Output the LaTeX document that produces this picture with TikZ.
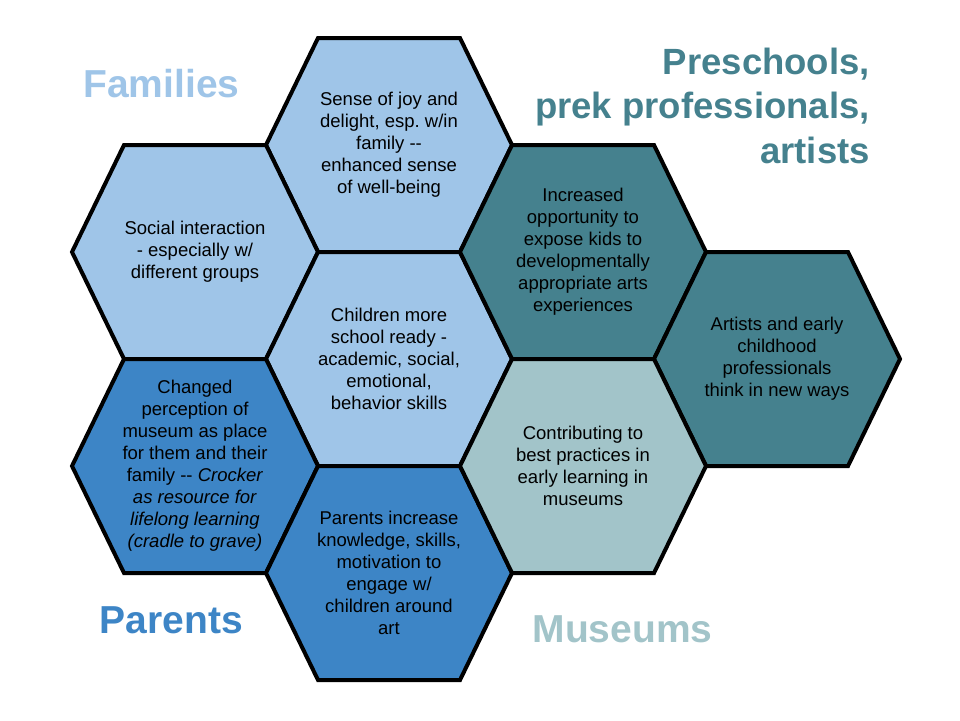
\documentclass[tikz,border=0pt]{standalone}
\usepackage{fontspec}
\setmainfont{Liberation Sans}
\usetikzlibrary{backgrounds}
\frenchspacing

\definecolor{famblue}{HTML}{9FC5E8}
\definecolor{parblue}{HTML}{3D85C6}
\definecolor{preteal}{HTML}{45818E}
\definecolor{musteal}{HTML}{A2C4C9}

\begin{document}
\begin{tikzpicture}[
  x=1pt, y=-1pt,
  cell/.style={
    align=center,
    inner sep=0pt,
    font=\fontsize{18.5}{22}\selectfont
  },
  hexline/.style={
    draw=black,
    line width=4pt,
    line join=miter
  },
  group/.style={
    inner sep=0pt,
    anchor=base,
    font=\fontsize{39}{44.5}\selectfont\bfseries
  }
]
\useasboundingbox (0,0) rectangle (960,720);

% 蜂窝中的八段文字
\node[cell] (joy) at (389,145) {Sense of joy and\\delight, esp. w/in\\family -{}-\\enhanced sense\\of well-being};
\node[cell] (social) at (195,252) {Social interaction\\- especially w/\\different groups};
\node[cell] (ready) at (389,359) {Children more\\school ready -\\academic, social,\\emotional,\\behavior skills};
\node[cell] (perception) at (195,466) {Changed\\perception of\\museum as place\\for them and their\\family -{}- \textit{Crocker}\\\textit{as resource for}\\\textit{lifelong learning}\\\textit{(cradle to grave)}};
\node[cell] (knowledge) at (389,573) {Parents increase\\knowledge, skills,\\motivation to\\engage w/\\children around\\art};
\node[cell] (opportunity) at (583,252) {Increased\\opportunity to\\expose kids to\\developmentally\\appropriate arts\\experiences};
\node[cell] (bestpractice) at (583,466) {Contributing to\\best practices in\\early learning in\\museums};
\node[cell] (newways) at (777,359) {Artists and early\\childhood\\professionals\\think in new ways};

% 六边形底色与边框
\begin{scope}[on background layer]
  \foreach \c/\col in {joy/famblue, social/famblue, ready/famblue,
      perception/parblue, knowledge/parblue,
      opportunity/preteal, newways/preteal, bestpractice/musteal}
    \filldraw[hexline, fill=\col, shift={(\c.center)}]
      (-123,0) -- (-71,-107) -- (71,-107) -- (123,0) -- (71,107) -- (-71,107) -- cycle;
\end{scope}

% 四个群体标题
\node[group, text=famblue] (families) at (161.5,97) {Families};
\node[group, text=parblue] (parents) at (171.5,633) {Parents};
\node[group, text=musteal] (museums) at (622.5,642) {Museums};
\node[group, text=preteal, anchor=base east, align=right,
  font=\fontsize{36.5}{44.5}\selectfont\bfseries] (preschools) at (870,163)
  {Preschools,\\prek professionals,\\artists};

\end{tikzpicture}
\end{document}
